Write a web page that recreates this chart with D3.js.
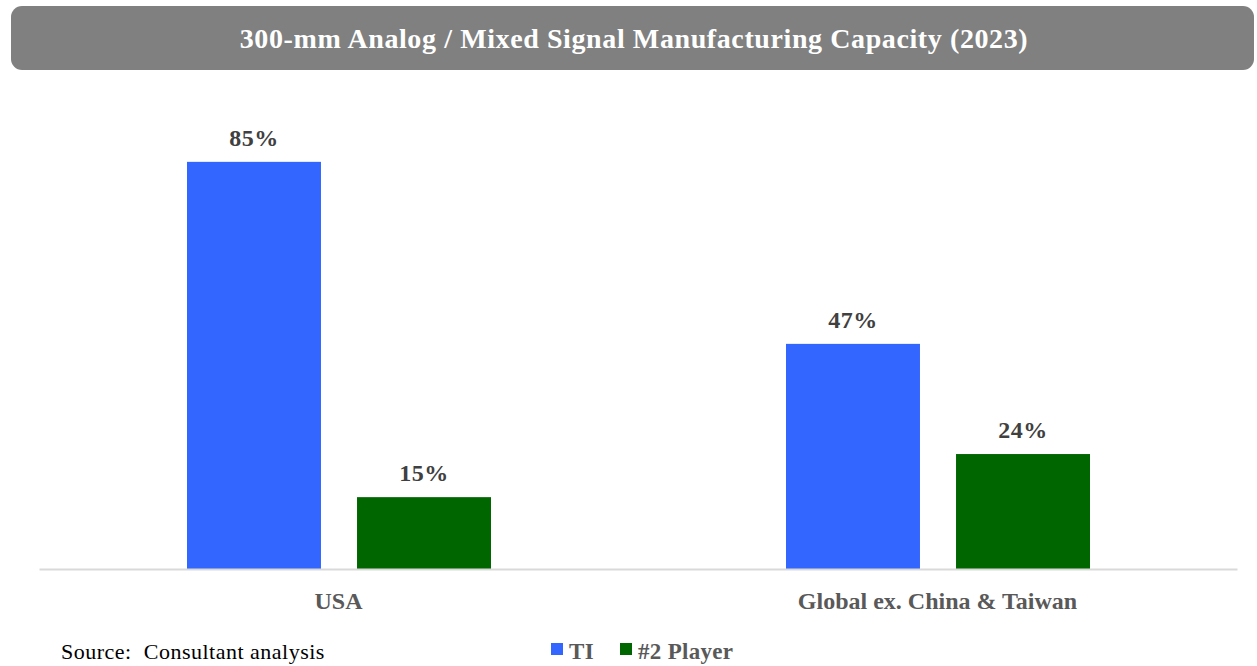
<!DOCTYPE html>
<html><head><meta charset="utf-8">
<script src="https://cdn.jsdelivr.net/npm/d3@7"></script>
<style>body{margin:0;background:#fff}svg{display:block}</style>
</head><body>
<script>
const categories = ["USA", "Global ex. China & Taiwan"];
const seriesNames = ["TI", "#2 Player"];
const tiValues = [85, 47];
const player2Values = [15, 24];
const colors = ["#3366ff", "#006600"];
const titleText = "300-mm Analog / Mixed Signal Manufacturing Capacity (2023)";
const sourceText = "Source:  Consultant analysis";

const W = 1257, H = 666;
const svg = d3.select("body").append("svg").attr("width", W).attr("height", H);
const serif = "'Liberation Serif','Times New Roman',serif";

// title banner
svg.append("rect").attr("x", 11).attr("y", 6).attr("width", 1243).attr("height", 64)
  .attr("rx", 11).attr("fill", "#808080");
svg.append("text").attr("x", 634).attr("y", 48).attr("text-anchor", "middle")
  .attr("font-family", serif).attr("font-weight", "bold").attr("font-size", 28)
  .attr("letter-spacing", 0.6).attr("fill", "#fff").text(titleText);

const left = 39, right = 1237, base = 569;
const x0 = d3.scaleBand().domain(categories).range([left, right]).paddingInner(0).paddingOuter(0);
const x1 = d3.scaleBand().domain(seriesNames).range([148, 452]).paddingInner(0.212);
const y = d3.scaleLinear().domain([0, 100]).range([base, base - 479]);

const data = categories.map((c, i) => ({cat: c, vals: [tiValues[i], player2Values[i]]}));

const g = svg.append("g");
const groups = g.selectAll("g.grp").data(data).join("g")
  .attr("transform", d => `translate(${x0(d.cat)},0)`);
groups.selectAll("rect").data(d => d.vals.map((v, j) => ({s: seriesNames[j], v, j})))
  .join("rect")
  .attr("x", d => x1(d.s)).attr("width", x1.bandwidth())
  .attr("y", d => y(d.v)).attr("height", d => y(0) - y(d.v))
  .attr("fill", d => colors[d.j]);
groups.selectAll("text.lbl").data(d => d.vals.map((v, j) => ({s: seriesNames[j], v, j})))
  .join("text").attr("class", "lbl")
  .attr("x", d => x1(d.s) + x1.bandwidth() / 2).attr("y", d => y(d.v) - 16)
  .attr("text-anchor", "middle").attr("font-family", serif).attr("font-weight", "bold")
  .attr("font-size", 24).attr("letter-spacing", 0.5).attr("fill", "#404040").text(d => d.v + "%");

// axis
const ax = svg.append("g").attr("transform", `translate(0,${base})`)
  .call(d3.axisBottom(x0).tickSize(0).tickPadding(23));
ax.select(".domain").attr("stroke", "#d9d9d9").attr("stroke-width", 2);
ax.selectAll("text").attr("font-family", serif).attr("font-weight", "bold")
  .attr("font-size", 24).attr("fill", "#595959");

// legend
const legX = [551, 620];
const leg = svg.append("g");
seriesNames.forEach((s, i) => {
  leg.append("rect").attr("x", legX[i]).attr("y", 643).attr("width", 12).attr("height", 12).attr("fill", colors[i]);
  leg.append("text").attr("x", legX[i] + 18).attr("y", 659).attr("font-family", serif)
    .attr("font-weight", "bold").attr("font-size", 23).attr("letter-spacing", 0.3)
    .attr("fill", "#595959").text(s);
});

svg.append("text").attr("x", 61).attr("y", 659).attr("font-family", serif)
  .attr("font-size", 22).attr("letter-spacing", 0.5).style("white-space", "pre")
  .attr("fill", "#000").text(sourceText);
</script>
</body></html>
